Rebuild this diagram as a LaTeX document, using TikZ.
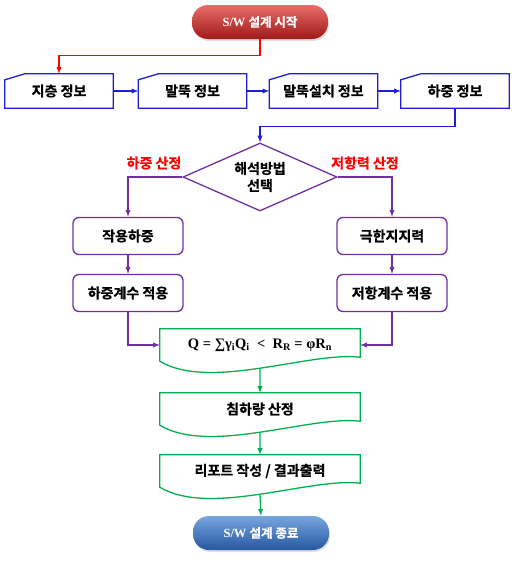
\documentclass[tikz,border=0pt]{standalone}
\usepackage{fontspec}
\setmainfont{Liberation Serif}
\newfontfamily\kr{Noto Sans CJK KR}[BoldFont={Noto Sans CJK KR Bold}, BoldFeatures={FakeBold=0.6}]
\usetikzlibrary{arrows, shapes.geometric, shadows, calc}

\definecolor{inblue}{RGB}{30,30,215}
\definecolor{choicepurple}{RGB}{112,48,160}
\definecolor{docgreen}{RGB}{0,176,80}
\definecolor{pillredtop}{RGB}{232,110,105}
\definecolor{pillredmid}{RGB}{205,45,45}
\definecolor{pillredbot}{RGB}{160,25,25}
\definecolor{pillbluetop}{RGB}{120,165,222}
\definecolor{pillbluemid}{RGB}{60,118,195}
\definecolor{pillbluebot}{RGB}{38,88,160}

\tikzset{
    pill/.style={rounded corners=16pt, minimum width=136pt, minimum height=34pt,
        text=white, font=\fontsize{12.5}{14}\selectfont\bfseries,
        drop shadow={opacity=0.25, shadow xshift=1pt, shadow yshift=-2pt}},
    inlabel/.style={minimum width=108pt, minimum height=34pt, inner sep=0pt,
        font=\kr\fontsize{14}{16}\selectfont\bfseries},
    inline/.style={draw=inblue, line width=1.3pt},
    choice/.style={diamond, draw=choicepurple, line width=1.3pt, aspect=2.26,
        minimum width=154pt, minimum height=68pt, inner sep=1pt, align=center,
        font=\kr\fontsize{14}{17}\selectfont\bfseries},
    stepbox/.style={draw=choicepurple, line width=1.3pt, rounded corners=6pt,
        minimum width=110pt, minimum height=37pt,
        font=\kr\fontsize{14}{16}\selectfont\bfseries},
    doclabel/.style={minimum width=200pt, minimum height=32pt, inner sep=0pt,
        font=\kr\fontsize{14}{16}\selectfont\bfseries},
    docline/.style={draw=docgreen, line width=1.3pt},
    redlabel/.style={text=red, font=\kr\fontsize{14}{16}\selectfont\bfseries},
    redline/.style={draw=red, line width=1.3pt, -latex},
    blueline/.style={draw=inblue, line width=1.3pt, -latex},
    purpleline/.style={draw=choicepurple, line width=1.3pt, -latex},
    greenline/.style={draw=docgreen, line width=1.3pt, -latex}
}

% input box with a cut top-left corner
\newcommand{\inputbox}[4]{%
    \node[inlabel] (#1) at (#2,#3) {#4};
    \draw[inline] ([yshift=-6pt]#1.north west) -- ([xshift=20pt]#1.north west)
        -- (#1.north east) -- (#1.south east) -- (#1.south west) -- cycle;
}
% document box with a wavy bottom
\newcommand{\docbox}[4]{%
    \node[doclabel] (#1) at (#2,#3) {#4};
    \draw[docline] (#1.north west) -- (#1.north east) -- ($(#1.south east)+(0,-4)$)
        .. controls ($(#1.south east)+(-50,-10)$) and ($(#1.south west)+(50,30)$)
        .. (#1.south west) coordinate[pos=0.5] (#1-w) -- cycle;
}

\begin{document}
\begin{tikzpicture}[x=1pt, y=-1pt]
    \useasboundingbox (0,0) rectangle (520,562);

    % start
    \node[pill, top color=pillredtop, middle color=pillredmid, bottom color=pillredbot]
        (start) at (260,22) {S/W {\kr 설계 시작}};

    % input data
    \inputbox{layer}{59}{91}{지층 정보}
    \inputbox{pile}{192.5}{91}{말뚝 정보}
    \inputbox{install}{323.5}{91}{말뚝설치 정보}
    \inputbox{loads}{455}{91}{하중 정보}

    \draw[redline] (start.south) -- ++(0,16) -| (layer.north);
    \draw[blueline] (layer) -- (pile);
    \draw[blueline] (pile) -- (install);
    \draw[blueline] (install) -- (loads);

    % analysis method
    \node[choice] (choice) at (260,177) {해석방법\\선택};
    \draw[blueline] (loads.south) -- ++(0,18) -| (choice.north);

    \node[redlabel] (loadlbl) at (154,163) {하중 산정};
    \node[redlabel] (resistlbl) at (365,163) {저항력 산정};

    \node[stepbox] (action) at (128,236) {작용하중};
    \node[stepbox] (ultimate) at (392,236) {극한지지력};
    \node[stepbox] (lfactor) at (128,293) {하중계수 적용};
    \node[stepbox] (rfactor) at (392,293) {저항계수 적용};

    \draw[purpleline] (choice.west) -| (action.north);
    \draw[purpleline] (choice.east) -| (ultimate.north);
    \draw[purpleline] (action) -- (lfactor);
    \draw[purpleline] (ultimate) -- (rfactor);

    % check and output
    \docbox{check}{260}{345}{\fontsize{14.5}{16}\selectfont\rmfamily\bfseries
        Q = ∑γ\textsubscript{i}Q\textsubscript{i} \ < \ R\textsubscript{R} = φR\textsubscript{n}}
    \docbox{settle}{260}{409}{침하량 산정}
    \docbox{report}{260}{471}{리포트 작성 / 결과출력}

    \draw[purpleline] (lfactor.south) |- (check.west);
    \draw[purpleline] (rfactor.south) |- (check.east);
    \draw[greenline] (check-w) -- (settle.north);
    \draw[greenline] (settle-w) -- (report.north);

    % end
    \node[pill, top color=pillbluetop, middle color=pillbluemid, bottom color=pillbluebot]
        (finish) at (261,533) {S/W {\kr 설계 종료}};
    \draw[greenline] (report-w) -- (finish.north);
\end{tikzpicture}
\end{document}
